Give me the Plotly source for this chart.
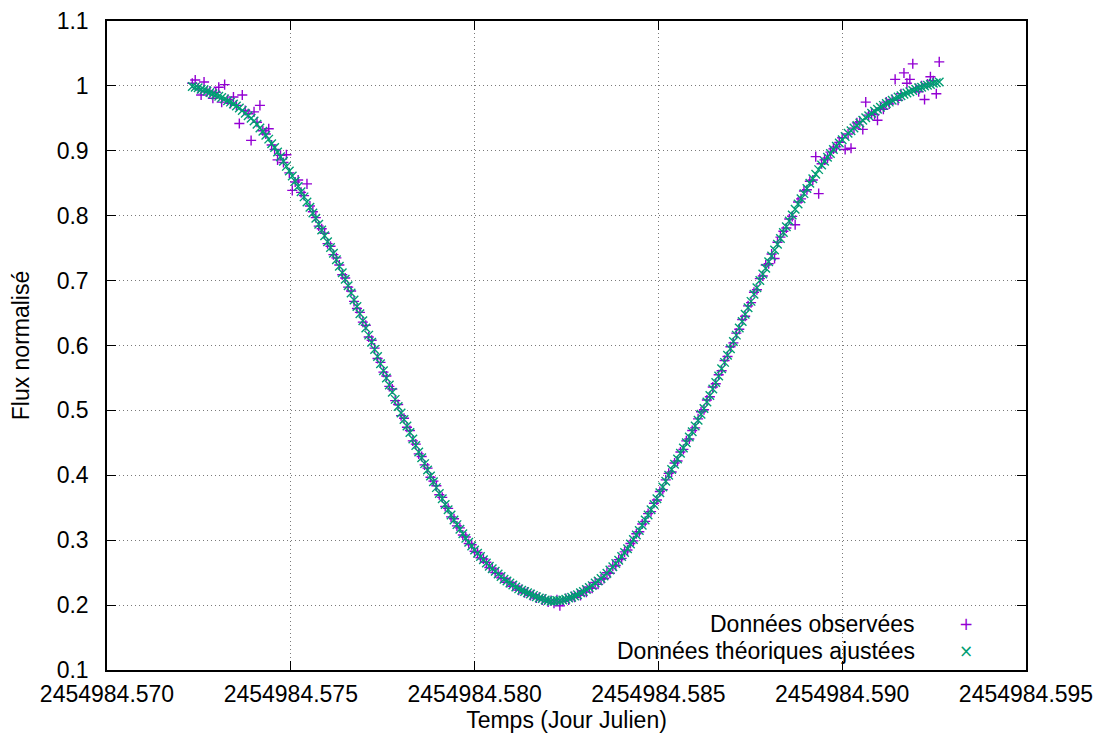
import plotly.graph_objects as go

# ---------------- data ----------------
BASE_JD = 2454984.0

temps = [
    0.57232, 0.57240, 0.57248, 0.57256, 0.57264, 0.57272, 0.57280, 0.57288, 0.57296, 0.57304,
    0.57312, 0.57320, 0.57328, 0.57336, 0.57344, 0.57352, 0.57360, 0.57368, 0.57376, 0.57384,
    0.57392, 0.57400, 0.57408, 0.57416, 0.57424, 0.57432, 0.57440, 0.57448, 0.57456, 0.57464,
    0.57472, 0.57480, 0.57488, 0.57496, 0.57504, 0.57512, 0.57520, 0.57528, 0.57536, 0.57544,
    0.57552, 0.57560, 0.57568, 0.57576, 0.57584, 0.57592, 0.57600, 0.57608, 0.57616, 0.57624,
    0.57632, 0.57640, 0.57648, 0.57656, 0.57664, 0.57672, 0.57680, 0.57688, 0.57696, 0.57704,
    0.57712, 0.57720, 0.57728, 0.57736, 0.57744, 0.57752, 0.57760, 0.57768, 0.57776, 0.57784,
    0.57792, 0.57800, 0.57808, 0.57816, 0.57824, 0.57832, 0.57840, 0.57848, 0.57856, 0.57864,
    0.57872, 0.57880, 0.57888, 0.57896, 0.57904, 0.57912, 0.57920, 0.57928, 0.57936, 0.57944,
    0.57952, 0.57960, 0.57968, 0.57976, 0.57984, 0.57992, 0.58000, 0.58008, 0.58016, 0.58024,
    0.58032, 0.58040, 0.58048, 0.58056, 0.58064, 0.58072, 0.58080, 0.58088, 0.58096, 0.58104,
    0.58112, 0.58120, 0.58128, 0.58136, 0.58144, 0.58152, 0.58160, 0.58168, 0.58176, 0.58184,
    0.58192, 0.58200, 0.58208, 0.58216, 0.58224, 0.58232, 0.58240, 0.58248, 0.58256, 0.58264,
    0.58272, 0.58280, 0.58288, 0.58296, 0.58304, 0.58312, 0.58320, 0.58328, 0.58336, 0.58344,
    0.58352, 0.58360, 0.58368, 0.58376, 0.58384, 0.58392, 0.58400, 0.58408, 0.58416, 0.58424,
    0.58432, 0.58440, 0.58448, 0.58456, 0.58464, 0.58472, 0.58480, 0.58488, 0.58496, 0.58504,
    0.58512, 0.58520, 0.58528, 0.58536, 0.58544, 0.58552, 0.58560, 0.58568, 0.58576, 0.58584,
    0.58592, 0.58600, 0.58608, 0.58616, 0.58624, 0.58632, 0.58640, 0.58648, 0.58656, 0.58664,
    0.58672, 0.58680, 0.58688, 0.58696, 0.58704, 0.58712, 0.58720, 0.58728, 0.58736, 0.58744,
    0.58752, 0.58760, 0.58768, 0.58776, 0.58784, 0.58792, 0.58800, 0.58808, 0.58816, 0.58824,
    0.58832, 0.58840, 0.58848, 0.58856, 0.58864, 0.58872, 0.58880, 0.58888, 0.58896, 0.58904,
    0.58912, 0.58920, 0.58928, 0.58936, 0.58944, 0.58952, 0.58960, 0.58968, 0.58976, 0.58984,
    0.58992, 0.59000, 0.59008, 0.59016, 0.59024, 0.59032, 0.59040, 0.59048, 0.59056, 0.59064,
    0.59072, 0.59080, 0.59088, 0.59096, 0.59104, 0.59112, 0.59120, 0.59128, 0.59136, 0.59144,
    0.59152, 0.59160, 0.59168, 0.59176, 0.59184, 0.59192, 0.59200, 0.59208, 0.59216, 0.59224,
    0.59232, 0.59240, 0.59248, 0.59256, 0.59264,
]

flux_observe = [
    1.004, 1.009, 0.996, 0.986, 1.006, 0.991, 0.992, 0.981, 0.990, 0.998,
    0.975, 1.002, 0.979, 0.973, 0.983, 0.970, 0.942, 0.986, 0.962, 0.957,
    0.916, 0.960, 0.944, 0.970, 0.931, 0.926, 0.934, 0.909, 0.902, 0.886,
    0.893, 0.882, 0.894, 0.866, 0.839, 0.852, 0.855, 0.836, 0.831, 0.849,
    0.815, 0.806, 0.797, 0.784, 0.780, 0.773, 0.757, 0.753, 0.740, 0.735,
    0.724, 0.709, 0.704, 0.690, 0.684, 0.668, 0.657, 0.651, 0.636, 0.631,
    0.613, 0.608, 0.596, 0.580, 0.574, 0.559, 0.553, 0.537, 0.533, 0.515,
    0.509, 0.492, 0.488, 0.474, 0.469, 0.453, 0.448, 0.433, 0.429, 0.416,
    0.411, 0.397, 0.391, 0.384, 0.370, 0.366, 0.352, 0.349, 0.336, 0.333,
    0.322, 0.319, 0.308, 0.305, 0.295, 0.293, 0.283, 0.281, 0.273, 0.271,
    0.266, 0.258, 0.257, 0.250, 0.249, 0.242, 0.241, 0.235, 0.235, 0.229,
    0.229, 0.223, 0.224, 0.219, 0.220, 0.215, 0.216, 0.211, 0.212, 0.208,
    0.209, 0.205, 0.207, 0.203, 0.208, 0.199, 0.206, 0.210, 0.208, 0.213,
    0.212, 0.217, 0.215, 0.222, 0.220, 0.228, 0.226, 0.235, 0.232, 0.240,
    0.241, 0.250, 0.249, 0.260, 0.261, 0.270, 0.272, 0.282, 0.285, 0.295,
    0.299, 0.310, 0.313, 0.325, 0.329, 0.341, 0.344, 0.357, 0.362, 0.375,
    0.378, 0.393, 0.403, 0.405, 0.419, 0.422, 0.436, 0.440, 0.453, 0.456,
    0.469, 0.473, 0.487, 0.498, 0.501, 0.516, 0.521, 0.536, 0.541, 0.555,
    0.561, 0.577, 0.583, 0.598, 0.604, 0.619, 0.625, 0.640, 0.645, 0.661,
    0.666, 0.682, 0.686, 0.703, 0.707, 0.724, 0.726, 0.741, 0.734, 0.759,
    0.767, 0.776, 0.781, 0.795, 0.799, 0.786, 0.821, 0.826, 0.838, 0.840,
    0.853, 0.855, 0.891, 0.834, 0.880, 0.886, 0.889, 0.898, 0.903, 0.906,
    0.913, 0.920, 0.902, 0.926, 0.904, 0.935, 0.943, 0.945, 0.933, 0.975,
    0.955, 0.958, 0.956, 0.947, 0.966, 0.964, 0.975, 0.972, 0.979, 1.010,
    0.978, 0.988, 1.020, 1.004, 1.010, 1.034, 0.996, 0.991, 1.000, 0.979,
    1.003, 1.014, 1.008, 0.988, 1.037,
]

flux_theorique = [
    0.999, 0.998, 0.997, 0.995, 0.994, 0.992, 0.990, 0.988, 0.986, 0.984,
    0.982, 0.980, 0.977, 0.975, 0.972, 0.969, 0.966, 0.962, 0.958, 0.954,
    0.950, 0.946, 0.941, 0.935, 0.930, 0.924, 0.918, 0.911, 0.905, 0.898,
    0.891, 0.884, 0.876, 0.869, 0.861, 0.853, 0.845, 0.837, 0.829, 0.821,
    0.813, 0.804, 0.796, 0.787, 0.778, 0.769, 0.760, 0.751, 0.742, 0.732,
    0.722, 0.712, 0.702, 0.692, 0.681, 0.670, 0.660, 0.649, 0.638, 0.627,
    0.616, 0.605, 0.594, 0.583, 0.572, 0.561, 0.550, 0.539, 0.528, 0.517,
    0.506, 0.496, 0.486, 0.476, 0.466, 0.456, 0.446, 0.436, 0.427, 0.418,
    0.408, 0.399, 0.390, 0.381, 0.372, 0.364, 0.355, 0.347, 0.339, 0.331,
    0.324, 0.317, 0.310, 0.303, 0.297, 0.291, 0.285, 0.280, 0.275, 0.270,
    0.265, 0.260, 0.256, 0.252, 0.248, 0.244, 0.240, 0.237, 0.234, 0.231,
    0.228, 0.225, 0.223, 0.221, 0.219, 0.217, 0.215, 0.213, 0.211, 0.210,
    0.208, 0.207, 0.206, 0.206, 0.207, 0.207, 0.208, 0.209, 0.211, 0.212,
    0.214, 0.216, 0.219, 0.221, 0.224, 0.227, 0.230, 0.234, 0.237, 0.241,
    0.245, 0.249, 0.254, 0.259, 0.264, 0.269, 0.275, 0.281, 0.287, 0.294,
    0.301, 0.308, 0.315, 0.323, 0.331, 0.339, 0.347, 0.355, 0.364, 0.373,
    0.382, 0.391, 0.400, 0.409, 0.417, 0.425, 0.434, 0.442, 0.450, 0.459,
    0.467, 0.476, 0.485, 0.494, 0.503, 0.513, 0.523, 0.533, 0.543, 0.553,
    0.564, 0.574, 0.585, 0.595, 0.606, 0.616, 0.627, 0.637, 0.648, 0.658,
    0.668, 0.679, 0.689, 0.700, 0.710, 0.719, 0.729, 0.738, 0.747, 0.756,
    0.765, 0.774, 0.783, 0.792, 0.801, 0.810, 0.818, 0.826, 0.834, 0.842,
    0.850, 0.857, 0.864, 0.871, 0.878, 0.884, 0.890, 0.896, 0.902, 0.907,
    0.912, 0.917, 0.922, 0.927, 0.931, 0.935, 0.939, 0.943, 0.947, 0.951,
    0.954, 0.958, 0.961, 0.964, 0.967, 0.970, 0.973, 0.975, 0.978, 0.980,
    0.983, 0.985, 0.987, 0.989, 0.991, 0.993, 0.995, 0.997, 0.998, 1.000,
    1.001, 1.002, 1.004, 1.005, 1.006,
]

x_tick_offsets = [0.570, 0.575, 0.580, 0.585, 0.590, 0.595]
x_tick_labels = ["2454984.570", "2454984.575", "2454984.580",
                 "2454984.585", "2454984.590", "2454984.595"]
y_ticks = [0.1, 0.2, 0.3, 0.4, 0.5, 0.6, 0.7, 0.8, 0.9, 1.0, 1.1]
y_tick_labels = ["0.1", "0.2", "0.3", "0.4", "0.5", "0.6", "0.7", "0.8", "0.9", "1", "1.1"]

series_names = ["Données observées", "Données théoriques ajustées"]
x_title = "Temps (Jour Julien)"
y_title = "Flux normalisé"

# ---------------- figure ----------------
FONT = "Liberation Sans, Arial, Helvetica, sans-serif"
FS = 23
PURPLE = "#9400D3"
GREEN = "#009E73"

jd = [BASE_JD + t for t in temps]
x_tickvals = [BASE_JD + t for t in x_tick_offsets]

fig = go.Figure()
fig.add_trace(go.Scatter(
    x=jd, y=flux_observe, mode="markers", name=series_names[0], showlegend=False,
    marker=dict(symbol="cross-thin", size=7.2, color=PURPLE,
                line=dict(width=1.4, color=PURPLE)),
))
fig.add_trace(go.Scatter(
    x=jd, y=flux_theorique, mode="markers", name=series_names[1], showlegend=False,
    marker=dict(symbol="x-thin", size=8.5, color=GREEN,
                line=dict(width=1.4, color=GREEN)),
))

axis_common = dict(
    automargin=False,
    showline=True, linecolor="black", linewidth=1.5, mirror="ticks",
    ticks="inside", ticklen=9, tickwidth=1.3, tickcolor="black",
    showgrid=True, gridcolor="#7a7a7a", gridwidth=1, griddash="1px,3px",
    zeroline=False, tickfont=dict(family=FONT, size=FS, color="black"),
)

# the page body has an 8 px margin, so the figure is 8 px smaller on each side
fig.update_layout(
    width=1095, height=729,
    margin=dict(l=99, r=77, t=13, b=67),
    paper_bgcolor="white", plot_bgcolor="white",
    font=dict(family=FONT, size=FS, color="black"),
    showlegend=False,
    xaxis=dict(
        range=[BASE_JD + x_tick_offsets[0], BASE_JD + x_tick_offsets[-1]],
        tickmode="array", tickvals=x_tickvals, ticktext=x_tick_labels,
        ticklabelstandoff=3,
        title=dict(text=x_title, font=dict(family=FONT, size=FS), standoff=2),
        **axis_common,
    ),
    yaxis=dict(
        range=[y_ticks[0], y_ticks[-1]],
        tickmode="array", tickvals=y_ticks, ticktext=y_tick_labels,
        ticklabelstandoff=12,
        title=dict(text=y_title, font=dict(family=FONT, size=FS), standoff=26),
        **axis_common,
    ),
)

# gnuplot-style key: text right-aligned, sample symbol on its right
key_text_x = 0.8803
key_sym_x = 0.9347
key_rows_y = [0.0708, 0.0292]
key_symbols = ["+", "×"]
key_colors = [PURPLE, GREEN]
for name, yk, sym, col in zip(series_names, key_rows_y, key_symbols, key_colors):
    fig.add_annotation(xref="paper", yref="paper", x=key_text_x, y=yk,
                       text=name, showarrow=False, xanchor="right", yanchor="middle",
                       borderpad=0, font=dict(family=FONT, size=FS, color="black"))
    fig.add_annotation(xref="paper", yref="paper", x=key_sym_x, y=yk,
                       text=sym, showarrow=False, xanchor="center", yanchor="middle",
                       borderpad=0, font=dict(family="DejaVu Sans, sans-serif", size=17, color=col))

fig.write_html("out.html")
